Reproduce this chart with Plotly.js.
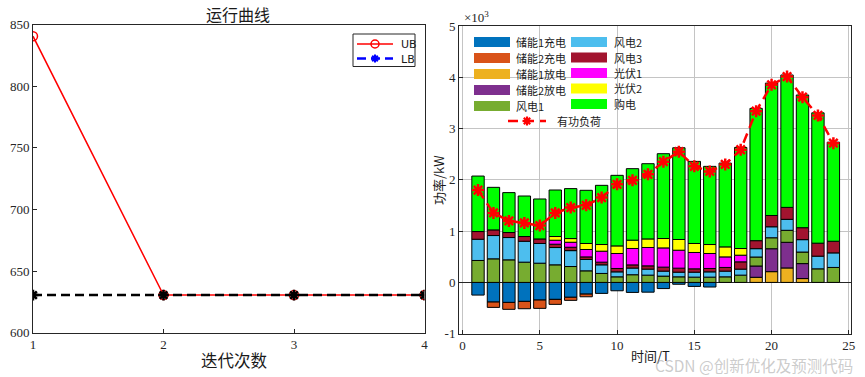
<!DOCTYPE html>
<html>
<head>
<meta charset="utf-8">
<script src="https://cdn.plot.ly/plotly-3.0.1.min.js"></script>
<style>
html,body{margin:0;padding:0;background:#ffffff;}
#chart{width:865px;height:377px;}
</style>
</head>
<body>
<div id="chart"></div>
<script>
// ---------- Left chart data ----------
const iterations = [1, 2, 3, 4];
const ubValues = [840.5, 630.5, 630.5, 630.5];
const lbValues = [630.5, 630.5, 630.5, 630.5];
const leftXTicks = [1, 2, 3, 4];
const leftYTicks = [600, 650, 700, 750, 800, 850];

// ---------- Right chart data (kW) ----------
const hours = [1,2,3,4,5,6,7,8,9,10,11,12,13,14,15,16,17,18,19,20,21,22,23,24];
const storage1Charge    = [-247,-383,-390,-370,-344,-331,-290,-228,-214,-163,-195,-190,-120,-36,-78,-90,0,0,0,0,0,0,0,0];
const storage2Charge    = [0,-104,-135,-143,-162,-97,-60,-52,0,0,0,0,0,0,0,0,0,0,0,0,0,0,0,0];
const storage1Discharge = [0,0,0,0,0,0,0,0,0,0,0,0,0,0,0,0,0,0,100,210,282,75,0,0];
const storage2Discharge = [0,0,0,0,0,0,0,0,0,0,0,0,0,0,0,0,0,0,220,447,500,292,0,0];
const wind1 = [428,460,440,395,375,343,310,226,175,109,150,142,123,109,103,103,109,142,175,214,234,225,265,292];
const wind2 = [414,454,435,408,384,337,310,221,168,97,130,117,97,91,97,103,111,117,163,214,214,242,247,284];
const wind3 = [150,110,98,92,89,65,66,51,52,66,62,64,78,78,65,66,72,142,156,220,233,233,253,227];
const pv1   = [0,0,0,0,0,78,97,144,214,292,320,358,375,350,319,292,206,130,0,0,0,0,0,0];
const pv2   = [0,0,0,0,0,72,72,117,130,148,162,167,183,209,175,175,195,130,0,0,0,0,0,0];
const gridPurchase = [1082,830,778,790,779,907,974,1037,1154,1376,1394,1467,1654,1789,1601,1524,1634,1971,2580,2582,2582,2588,2542,1932];
const loadValues = [1800,1354,1200,1160,1108,1354,1459,1504,1654,1912,1990,2107,2354,2548,2263,2165,2300,2587,3339,3852,4014,3611,3255,2716];

const seriesNames  = ['储能1充电','储能2充电','储能1放电','储能2放电','风电1','风电2','风电3','光伏1','光伏2','购电'];
const seriesColors = ['#0072BD','#D95319','#EDB120','#7E2F8E','#77AC30','#4DBEEE','#A2142F','#FF00FF','#FFFF00','#00FF00'];
const loadName = '有功负荷';
const rightXTicks = [0, 5, 10, 15, 20, 25];
const rightYTicks = [-1000, 0, 1000, 2000, 3000, 4000, 5000];
const rightYTickText = ['-1', '0', '1', '2', '3', '4', '5'];

// ---------- helpers ----------
const W = 865, H = 377;
const px = x => x / W;
const py = y => 1 - y / H;
const serif = 'Liberation Serif, Noto Sans CJK SC, serif';
const cjk = 'Noto Sans CJK SC, sans-serif';
const axisColor = '#262626';

const traces = [];

// Left chart
traces.push({
  type: 'scatter', mode: 'lines+markers', x: iterations, y: ubValues, name: 'UB',
  xaxis: 'x', yaxis: 'y', showlegend: false, hoverinfo: 'skip',
  line: {color: '#ff0000', width: 1.5},
  marker: {symbol: 'circle-open', size: 9, color: '#ff0000', line: {color: '#ff0000', width: 1.5}}
});
traces.push({
  type: 'scatter', mode: 'lines+markers', x: iterations, y: lbValues, name: 'LB',
  xaxis: 'x', yaxis: 'y', showlegend: false, hoverinfo: 'skip',
  line: {color: '#000000', width: 2.5, dash: '9px,5px'},
  marker: {symbol: 'asterisk-open', size: 9, color: '#000000', line: {color: '#000000', width: 2.5}}
});

// Right chart bars
const barSeries = [storage1Charge, storage2Charge, storage1Discharge, storage2Discharge,
                   wind1, wind2, wind3, pv1, pv2, gridPurchase];
barSeries.forEach((vals, i) => {
  traces.push({
    type: 'bar', x: hours, y: vals.map(v => v === 0 ? null : v), name: seriesNames[i],
    xaxis: 'x2', yaxis: 'y2', width: 0.8, showlegend: false, hoverinfo: 'skip',
    marker: {color: seriesColors[i], line: {color: '#000000', width: 1}}
  });
});
traces.push({
  type: 'scatter', mode: 'lines+markers', x: hours, y: loadValues, name: loadName,
  xaxis: 'x2', yaxis: 'y2', showlegend: false, hoverinfo: 'skip',
  line: {color: '#ff0000', width: 2.5, dash: '10px,6px'},
  marker: {symbol: 'asterisk-open', size: 10, color: '#ff0000', line: {color: '#ff0000', width: 2.5}}
});

// ---------- manual legends ----------
const shapes = [];
const annotations = [];

function hline(x0, x1, y, color, width, dash) {
  shapes.push({type: 'line', xref: 'paper', yref: 'paper', x0: px(x0), x1: px(x1), y0: py(y), y1: py(y),
               line: {color: color, width: width, dash: dash || 'solid'}});
}
function rect(x0, x1, y0, y1, fill, lineColor, lw) {
  shapes.push({type: 'rect', xref: 'paper', yref: 'paper', x0: px(x0), x1: px(x1), y0: py(y1), y1: py(y0),
               fillcolor: fill, line: {color: lineColor || fill, width: lw === undefined ? 0 : lw}});
}
function asterisk(cx, cy, r, color, w) {
  const d = r * 0.7071;
  [[-r,0,r,0],[0,-r,0,r],[-d,-d,d,d],[-d,d,d,-d]].forEach(s => {
    shapes.push({type: 'line', xref: 'paper', yref: 'paper', x0: px(cx+s[0]), x1: px(cx+s[2]),
                 y0: py(cy+s[1]), y1: py(cy+s[3]), line: {color: color, width: w}});
  });
}
function label(x, y, text, size, xanchor, extra) {
  annotations.push(Object.assign({xref: 'paper', yref: 'paper', x: px(x), y: py(y), text: text, showarrow: false,
    xanchor: xanchor || 'left', yanchor: 'middle', font: {family: cjk, size: size, color: '#1a1a1a'}}, extra || {}));
}

// Left legend box
rect(353, 415, 34, 66.5, '#ffffff', '#262626', 1);
hline(357, 393, 44, '#ff0000', 1.5);
shapes.push({type: 'circle', xref: 'paper', yref: 'paper', x0: px(371), x1: px(379), y0: py(48), y1: py(40),
             line: {color: '#ff0000', width: 1.5}, fillcolor: 'rgba(0,0,0,0)'});
hline(357, 393, 58.5, '#0000ff', 2.5, '9px,5px');
asterisk(375, 58.5, 4, '#0000ff', 2);
label(399, 44.5, 'UB', 11, 'left', {font: {family: 'DejaVu Sans, sans-serif', size: 11, color: '#1a1a1a'}});
label(399, 59, 'LB', 11, 'left', {font: {family: 'DejaVu Sans, sans-serif', size: 11, color: '#1a1a1a'}});

// Right legend: two columns
const col1 = [0, 1, 2, 3, 4];
const col2 = [5, 6, 7, 8, 9];
col1.forEach((k, r) => {
  const yc = 42 + r * 16;
  rect(474, 510, yc - 5, yc + 5, seriesColors[k]);
  label(514, yc, seriesNames[k], 11);
});
col2.forEach((k, r) => {
  const yc = 42 + r * 15.5;
  rect(571, 607, yc - 5, yc + 5, seriesColors[k]);
  label(612, yc, seriesNames[k], 11);
});
hline(508, 546, 121, '#ff0000', 2.5, '10px,6px');
asterisk(527, 121, 4.5, '#ff0000', 2.2);
label(555, 121, loadName, 11);

// Axis titles and extra texts
label(238, 14.5, '运行曲线', 16, 'center');
label(235, 359.5, '迭代次数', 16.5, 'center');
label(650, 355, '时间/T', 13, 'center');
label(438, 180, '功率/kW', 13, 'center', {textangle: -90});
label(462, 17, '×10<sup>3</sup>', 13, 'left', {font: {family: serif, size: 13, color: axisColor}});
label(754, 365, 'CSDN @创新优化及预测代码', 15.5, 'center', {font: {family: cjk, size: 15.5, color: 'rgba(160,160,160,0.55)'}});

const commonAxis = {
  showline: true, mirror: true, linecolor: axisColor, linewidth: 1,
  ticks: 'inside', ticklen: 4, tickcolor: axisColor, tickwidth: 1,
  tickfont: {family: serif, size: 13, color: axisColor},
  zeroline: false, fixedrange: true
};

const layout = {
  width: W, height: H,
  margin: {l: 0, r: 0, t: 0, b: 0, pad: 0},
  paper_bgcolor: '#ffffff', plot_bgcolor: '#ffffff',
  barmode: 'relative',
  showlegend: false,
  xaxis: Object.assign({}, commonAxis, {
    domain: [px(33), px(424.5)], range: [1, 4], tickmode: 'array', tickvals: leftXTicks,
    showgrid: false, anchor: 'y'
  }),
  yaxis: Object.assign({}, commonAxis, {
    domain: [py(332.7), py(24.5)], range: [600, 850], tickmode: 'array', tickvals: leftYTicks,
    showgrid: false, anchor: 'x'
  }),
  xaxis2: Object.assign({}, commonAxis, {
    domain: [px(459), px(851)], range: [-0.23, 25.14], tickmode: 'array', tickvals: rightXTicks,
    showgrid: true, gridcolor: '#c4c4c4', gridwidth: 1, anchor: 'y2'
  }),
  yaxis2: Object.assign({}, commonAxis, {
    domain: [py(333.7), py(26)], range: [-1000, 5000], tickmode: 'array', tickvals: rightYTicks,
    ticktext: rightYTickText, showgrid: true, gridcolor: '#c4c4c4', gridwidth: 1,
    zeroline: true, zerolinecolor: '#262626', zerolinewidth: 1, anchor: 'x2'
  }),
  shapes: shapes,
  annotations: annotations
};

Plotly.newPlot('chart', traces, layout, {staticPlot: true, displayModeBar: false});
</script>
</body>
</html>
